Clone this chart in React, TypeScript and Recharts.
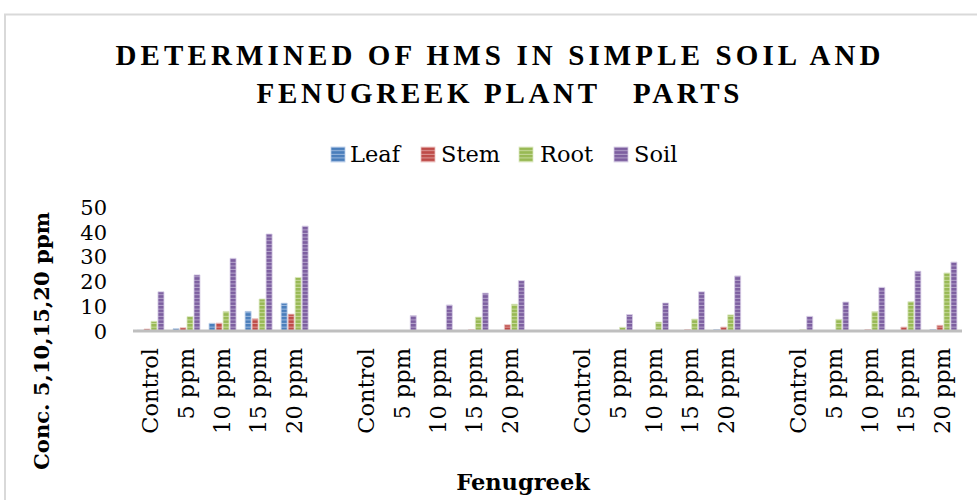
import React from 'react';
import { BarChart, Bar, XAxis, YAxis } from 'recharts';

const categories = [
  'Control', '5 ppm', '10 ppm', '15 ppm', '20 ppm', '',
  'Control', '5 ppm', '10 ppm', '15 ppm', '20 ppm', '',
  'Control', '5 ppm', '10 ppm', '15 ppm', '20 ppm', '',
  'Control', '5 ppm', '10 ppm', '15 ppm', '20 ppm',
];
const leaf = [0.3, 0.9, 3.1, 7.9, 11.2, null, 0, 0, 0, 0, 0, null, 0, 0, 0, 0, 0.6, null, 0, 0, 0, 0, 0.6];
const stem = [0.8, 1.3, 3.2, 4.9, 6.8, null, 0, 0, 0, 0.5, 2.5, null, 0, 0, 0, 0.6, 1.6, null, 0, 0, 0.6, 1.6, 2.3];
const root = [3.9, 5.8, 7.9, 12.9, 21.6, null, 0, 0, 0, 5.6, 10.8, null, 0, 1.5, 3.6, 4.8, 6.5, null, 0.5, 4.7, 7.8, 11.8, 23.4];
const soil = [15.8, 22.6, 29.3, 39.1, 42.3, null, 0, 6.2, 10.5, 15.3, 20.3, null, 0, 6.6, 11.3, 15.8, 22.2, null, 5.9, 11.7, 17.6, 24.1, 27.8];
const yTicks = [0, 10, 20, 30, 40, 50];
const seriesNames = ['Leaf', 'Stem', 'Root', 'Soil'];
const titleLine1 = 'DETERMINED OF HMS IN SIMPLE SOIL AND';
const titleLine2 = 'FENUGREEK PLANT   PARTS';
const yTitle = 'Conc. 5,10,15,20 ppm';
const xTitle = 'Fenugreek';

const data = categories.map((c, i) => ({
  cat: c,
  Leaf: leaf[i],
  Stem: stem[i],
  Root: root[i],
  Soil: soil[i],
}));

const palette: Record<string, { base: string; light: string; edge: string }> = {
  Leaf: { base: '#4A7EBB', light: '#9DB9DE', edge: '#B9CDE8' },
  Stem: { base: '#BE4B48', light: '#DE9B99', edge: '#EAC0BF' },
  Root: { base: '#98B954', light: '#C9DB9F', edge: '#DCE8C2' },
  Soil: { base: '#7D5FA0', light: '#B4A3CB', edge: '#D6CCE4' },
};

const SERIF = '"DejaVu Serif", serif';

const XTick = (props: any) => {
  const { x, payload } = props;
  if (!payload || !payload.value) return null;
  return (
    <text
      transform={`translate(${x + 6.5},348) rotate(-90)`}
      textAnchor="end"
      fontFamily={SERIF}
      fontSize={22.5}
      fill="#000"
    >
      {payload.value}
    </text>
  );
};

const YTick = (props: any) => {
  const { y, payload } = props;
  return (
    <text x={107} y={y + 7.8} textAnchor="end" fontFamily={SERIF} fontSize={21} fill="#000">
      {payload.value}
    </text>
  );
};

export default function App() {
  const legendIconX = [331, 421, 519, 614];
  const legendTextX = [350, 441, 540, 634];
  return (
    <div style={{ position: 'absolute', left: 0, top: 0, width: 977, height: 500, overflow: 'hidden', background: '#fff' }}>
      <svg width={0} height={0} style={{ position: 'absolute' }}>
        <defs>
          {seriesNames.map((n) => (
            <pattern key={n} id={`pat${n}`} patternUnits="userSpaceOnUse" width={6} height={3.6}>
              <rect x={0} y={0} width={6} height={3.6} fill={palette[n].base} />
              <rect x={0} y={2.6} width={6} height={1} fill={palette[n].light} />
            </pattern>
          ))}
        </defs>
      </svg>
      <BarChart
        width={977}
        height={500}
        data={data}
        margin={{ top: 207, right: 15, left: 73, bottom: 49 }}
        barCategoryGap="11%"
        barGap={1}
      >
        <XAxis
          dataKey="cat"
          interval={0}
          tickLine={false}
          axisLine={{ stroke: '#BFBFBF', strokeWidth: 3 }}
          height={120}
          tick={<XTick />}
        />
        <YAxis
          width={60}
          domain={[0, 50]}
          ticks={yTicks}
          axisLine={false}
          tickLine={false}
          tick={<YTick />}
        />
        {seriesNames.map((n) => (
          <Bar
            key={n}
            dataKey={n}
            fill={`url(#pat${n})`}
            stroke={palette[n].edge}
            strokeWidth={0.8}
            isAnimationActive={false}
          />
        ))}
      </BarChart>
      <svg
        width={977}
        height={500}
        style={{ position: 'absolute', left: 0, top: 0, pointerEvents: 'none' }}
      >
        <rect x={5} y={14.5} width={1000} height={600} fill="none" stroke="#D9D9D9" strokeWidth={2} />
        <text
          x={498}
          y={65}
          textAnchor="middle"
          fontFamily='"Liberation Serif", serif'
          fontWeight="bold"
          fontSize={29}
          textLength={765}
          lengthAdjust="spacing"
          fill="#000"
        >
          {titleLine1}
        </text>
        <text
          x={498}
          y={103}
          textAnchor="middle"
          fontFamily='"Liberation Serif", serif'
          fontWeight="bold"
          fontSize={29}
          textLength={483}
          lengthAdjust="spacing"
          fill="#000"
          style={{ whiteSpace: 'pre' }}
        >
          {titleLine2}
        </text>
        {seriesNames.map((n, i) => (
          <g key={n}>
            <rect x={legendIconX[i]} y={147} width={14} height={15} fill={`url(#pat${n})`} stroke={palette[n].edge} strokeWidth={0.8} />
            <text x={legendTextX[i]} y={162} fontFamily={SERIF} fontSize={22.5} fill="#000">
              {n}
            </text>
          </g>
        ))}
        <text
          transform="translate(49,341) rotate(-90)"
          textAnchor="middle"
          fontFamily={SERIF}
          fontWeight="bold"
          fontSize={21}
          textLength={258}
          lengthAdjust="spacingAndGlyphs"
          fill="#000"
        >
          {yTitle}
        </text>
        <text x={523} y={490} textAnchor="middle" fontFamily={SERIF} fontWeight="bold" fontSize={22.5} fill="#000">
          {xTitle}
        </text>
      </svg>
    </div>
  );
}
